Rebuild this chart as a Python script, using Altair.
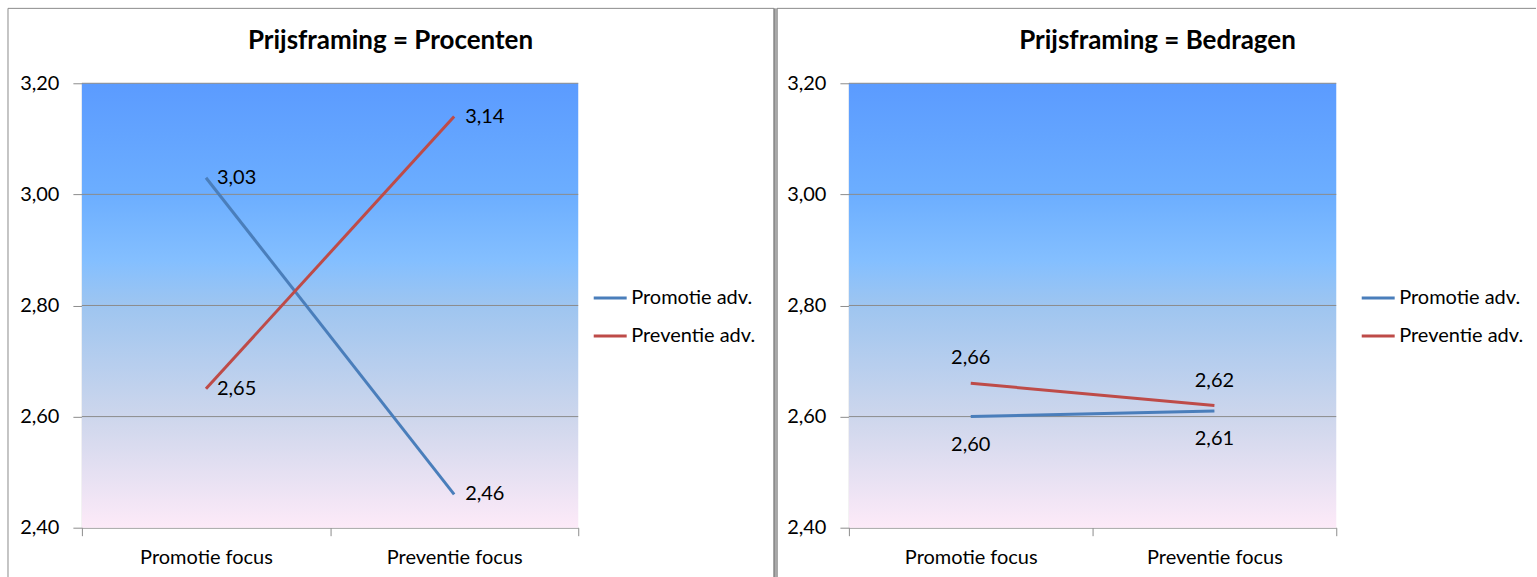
import altair as alt
import pandas as pd

categories = ["Promotie focus", "Preventie focus"]
series = ["Promotie adv.", "Preventie adv."]
procenten_promotie = [3.03, 2.46]
procenten_preventie = [2.65, 3.14]
bedragen_promotie = [2.60, 2.61]
bedragen_preventie = [2.66, 2.62]
y_ticks = [2.4, 2.6, 2.8, 3.0, 3.2]
titles = ["Prijsframing = Procenten", "Prijsframing = Bedragen"]

FONT = "Lato"
GRAY = "#8C8C8C"
BLUE = "#4A7EBB"
RED = "#BE4B48"
H = 445
FS = 20

gradient = alt.LinearGradient(
    gradient="linear", x1=0, x2=0, y1=0, y2=1,
    stops=[
        alt.GradientStop(color="#5B9BFF", offset=0),
        alt.GradientStop(color="#6CAEFF", offset=0.25),
        alt.GradientStop(color="#84BFFF", offset=0.4),
        alt.GradientStop(color="#9EC5F0", offset=0.5),
        alt.GradientStop(color="#CDD6EC", offset=0.75),
        alt.GradientStop(color="#FDEAF8", offset=1),
    ],
)


def make_df(promo, prev):
    rows = []
    for s, vals in zip(series, [promo, prev]):
        for c, v in zip(categories, vals):
            rows.append({"focus": c, "series": s, "value": v})
    return pd.DataFrame(rows)


LABEL_EXPR = "replace(format(datum.value, '.2f'), '.', ',')"


def panel(df, title, width, left_rule, right_rule, top_x2, mode, legend_x):
    x = alt.X(
        "focus:N", sort=categories, title=None, bandPosition=0.5,
        scale=alt.Scale(type="band", paddingInner=0, paddingOuter=0),
        axis=alt.Axis(tickBand="extent", labelAngle=0, labelFont=FONT, labelFontSize=FS,
                      labelColor="black", domainColor=GRAY, tickColor=GRAY, tickSize=8,
                      labelPadding=12, grid=False),
    )
    y = alt.Y(
        "value:Q", title=None,
        scale=alt.Scale(domain=[2.4, 3.2], nice=False, zero=False),
        axis=alt.Axis(values=y_ticks, labelExpr=LABEL_EXPR, labelFont=FONT, labelFontSize=FS,
                      labelColor="black", domainColor=GRAY, tickColor=GRAY, tickSize=9,
                      labelPadding=14, grid=False),
    )
    color = alt.Color(
        "series:N", sort=series,
        scale=alt.Scale(domain=series, range=[BLUE, RED]),
        legend=alt.Legend(orient="none", legendX=legend_x, legendY=197, title=None,
                          symbolType="stroke", symbolSize=1089, symbolStrokeWidth=3,
                          labelFont=FONT, labelFontSize=FS, labelColor="black",
                          rowPadding=10, labelOffset=3),
    )
    one = pd.DataFrame({"t": [title]})
    bg = alt.Chart(one).mark_rect(color=gradient).encode(
        y=alt.datum(3.2), y2=alt.datum(2.4))
    grid = alt.Chart(pd.DataFrame({"g": y_ticks[1:]})).mark_rule(color=GRAY, strokeWidth=1).encode(
        y=alt.Y("g:Q"))
    lines = alt.Chart(df).mark_line(strokeWidth=3).encode(x=x, y=y, color=color)

    base_text = alt.Chart(df).transform_calculate(label=LABEL_EXPR)
    if mode == "right":
        texts = base_text.mark_text(align="left", baseline="middle", dx=11, font=FONT,
                                    fontSize=FS, color="black").encode(x=x, y=y, text="label:N")
    else:
        t_red = base_text.transform_filter(alt.datum.series == series[1]).mark_text(
            align="center", baseline="middle", dy=-25, font=FONT, fontSize=FS, color="black"
        ).encode(x=x, y=y, text="label:N")
        t_blue = base_text.transform_filter(alt.datum.series == series[0]).mark_text(
            align="center", baseline="middle", dy=28, font=FONT, fontSize=FS, color="black"
        ).encode(x=x, y=y, text="label:N")
        texts = t_red + t_blue

    title_mark = alt.Chart(one).mark_text(
        font=FONT, fontSize=26, fontWeight="bold", color="black", align="center", baseline="middle"
    ).encode(x=alt.value(309), y=alt.value(-42), text="t:N")

    top = alt.Chart(one).mark_rule(color=GRAY, strokeWidth=1).encode(
        x=alt.value(left_rule[0]), x2=alt.value(top_x2), y=alt.value(-75))
    lrule = alt.Chart(one).mark_rule(color=GRAY, strokeWidth=left_rule[1]).encode(
        x=alt.value(left_rule[0]), y=alt.value(-75), y2=alt.value(496))
    layers = [bg, grid, top, lrule, lines, texts, title_mark]
    if right_rule is not None:
        rrule = alt.Chart(one).mark_rule(color=GRAY, strokeWidth=right_rule[1]).encode(
            x=alt.value(right_rule[0]), y=alt.value(-75), y2=alt.value(496))
        layers.append(rrule)
    return alt.layer(*layers).properties(width=width, height=H)


left = panel(make_df(procenten_promotie, procenten_preventie), titles[0], 497,
             (-74, 1), (693.5, 2.5), 693, "right", 511)
right = panel(make_df(bedragen_promotie, bedragen_preventie), titles[1], 488,
              (-72, 1.5), None, 688, "center", 512)

chart = (
    alt.hconcat(left, right, spacing=0)
    .resolve_scale(color="independent")
    .properties(padding={"left": 7, "top": 6, "right": 0, "bottom": 0}, background="white")
    .configure_view(strokeWidth=0)
)

chart.save("out.html", embed_options={"renderer": "svg", "actions": False})
